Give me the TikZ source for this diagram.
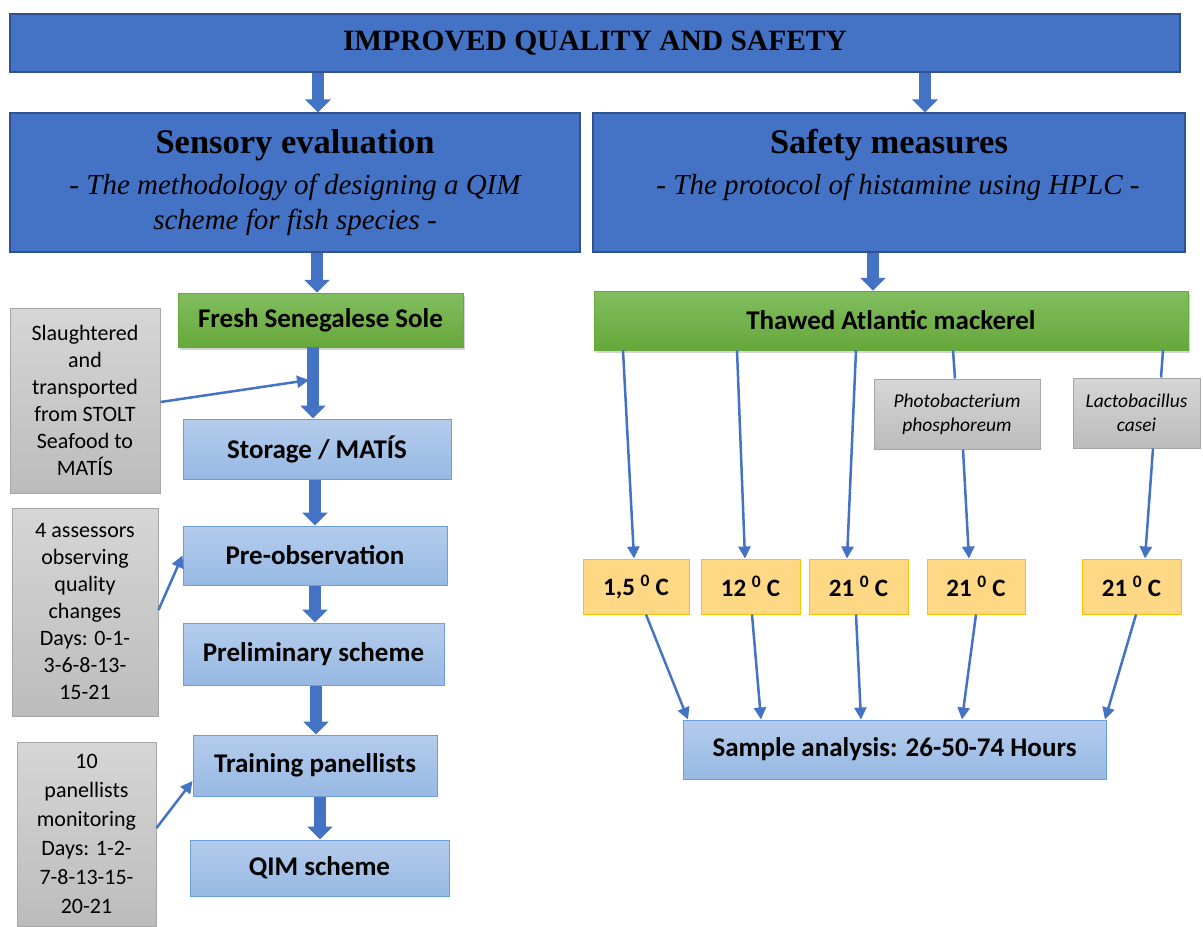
\documentclass[tikz,border=0pt]{standalone}
\usepackage{fontspec}
\setmainfont{Liberation Serif}
\newfontfamily\calfont{Carlito}
\usetikzlibrary{arrows.meta,shadows,calc}
\definecolor{cblue}{HTML}{4472C4}
\definecolor{cbluedark}{HTML}{2F528F}
\definecolor{clighttop}{HTML}{B4CCEC}
\definecolor{clightbot}{HTML}{97B9E3}
\definecolor{clightline}{HTML}{6C9FD8}
\definecolor{cgreentop}{HTML}{82BD60}
\definecolor{cgreenbot}{HTML}{66A83A}
\definecolor{cgraytop}{HTML}{D6D6D6}
\definecolor{cgraybot}{HTML}{BCBCBC}
\definecolor{cgrayline}{HTML}{A6A6A6}
\definecolor{ctemp}{HTML}{FFD886}
\definecolor{ctempline}{HTML}{FFC000}
\tikzset{
  bluebox/.style={fill=cblue,draw=cbluedark,line width=1.2pt,inner sep=0pt},
  stepbox/.style={top color=clighttop,bottom color=clightbot,draw=clightline,line width=1pt,inner sep=0pt,
     font=\calfont\bfseries\fontsize{27}{31}\selectfont},
  greenbox/.style={top color=cgreentop,bottom color=cgreenbot,draw=cgreenbot,line width=0.5pt,inner sep=0pt,
     drop shadow={shadow xshift=2pt,shadow yshift=-3pt,opacity=0.35},
     font=\calfont\bfseries\fontsize{27}{31}\selectfont},
  graybox/.style={top color=cgraytop,bottom color=cgraybot,draw=cgrayline,line width=1pt,inner sep=0pt,align=center,
     font=\calfont\fontsize{22}{27}\selectfont},
  tempbox/.style={fill=ctemp,draw=ctempline,line width=1pt,inner sep=0pt,
     font=\calfont\bfseries\fontsize{25}{29}\selectfont},
  blockarrow/.style={draw=cblue,line width=12pt,-{Triangle[width=25pt,length=13pt]}},
  conn/.style={draw=cblue,line width=2.5pt,-{Triangle[width=12pt,length=12pt]}},
  plainconn/.style={draw=cblue,line width=2.5pt},
}
\begin{document}
\begin{tikzpicture}[x=1pt,y=-1pt]
\useasboundingbox (0,0) rectangle (1203,927);
% top
\node[bluebox,minimum width=1170pt,minimum height=58pt,font=\bfseries\fontsize{29.5}{33}\selectfont] (top) at (595,43) {IMPROVED QUALITY AND SAFETY};
\node[bluebox,minimum width=570pt,minimum height=139pt] (sens) at (295,182.5) {};
\node[bluebox,minimum width=592pt,minimum height=139pt] (safe) at (889,182.5) {};
\node[font=\bfseries\fontsize{34.5}{38}\selectfont] (senst) at (295,145) {Sensory evaluation};
\node[font=\itshape\fontsize{29}{35}\selectfont,align=center] (senss) at (295,205) {- The methodology of designing a QIM\\scheme for fish species -};
\node[font=\bfseries\fontsize{34.5}{38}\selectfont] (safet) at (889,145) {Safety measures};
\node[font=\itshape\fontsize{29}{35}\selectfont] (safes) at (898,187) {- The protocol of histamine using HPLC -};
% green
\node[greenbox,minimum width=285pt,minimum height=54pt] (fresh) at (320.5,320) {Fresh Senegalese Sole};
\node[greenbox,minimum width=594pt,minimum height=59pt] (thawed) at (891,320.5) {Thawed Atlantic mackerel};
% left steps
\node[stepbox,minimum width=268pt,minimum height=60pt] (storage) at (317,449) {Storage / MATÍS};
\node[stepbox,minimum width=264pt,minimum height=59pt] (preobs) at (315,555.5) {Pre-observation};
\node[stepbox,minimum width=261pt,minimum height=62pt] (prelim) at (313.5,654) {Preliminary scheme};
\node[stepbox,minimum width=244pt,minimum height=61pt] (training) at (315,765.5) {Training panellists};
\node[stepbox,minimum width=259pt,minimum height=56pt] (qim) at (319.5,868) {QIM scheme};
% gray notes
\node[graybox,minimum width=150pt,minimum height=185pt] (g1) at (85,400.5) {Slaughtered\\and\\transported\\from STOLT\\Seafood to\\MATÍS};
\node[graybox,minimum width=146pt,minimum height=208pt] (g2) at (85,612) {4 assessors\\observing\\quality\\changes\\Days: 0-1-\\3-6-8-13-\\15-21};
\node[graybox,minimum width=139pt,minimum height=184pt,font=\calfont\fontsize{22}{29}\selectfont] (g3) at (86.5,834) {10\\panellists\\monitoring\\Days: 1-2-\\7-8-13-15-\\20-21};
\node[graybox,minimum width=166pt,minimum height=70pt,font=\calfont\itshape\fontsize{19.5}{24}\selectfont] (pb) at (957,414) {Photobacterium\\phosphoreum};
\node[graybox,minimum width=127pt,minimum height=70pt,font=\calfont\itshape\fontsize{19.5}{24}\selectfont] (lc) at (1136.5,413) {Lactobacillus\\casei};
% temps
\node[tempbox,minimum width=106pt,minimum height=55pt] (t1) at (636,586.5) {1,5 \textsuperscript{0} C};
\node[tempbox,minimum width=99pt,minimum height=55pt] (t2) at (750.5,586.5) {12 \textsuperscript{0} C};
\node[tempbox,minimum width=99pt,minimum height=55pt] (t3) at (858.5,586.5) {21 \textsuperscript{0} C};
\node[tempbox,minimum width=98pt,minimum height=55pt] (t4) at (976,586.5) {21 \textsuperscript{0} C};
\node[tempbox,minimum width=99pt,minimum height=55pt] (t5) at (1131.5,586.5) {21 \textsuperscript{0} C};
\node[stepbox,minimum width=423pt,minimum height=59pt] (sample) at (894.5,749.5) {Sample analysis: 26-50-74 Hours};
% block arrows
\draw[blockarrow] (top.south -| 318,0) -- (sens.north -| 318,0);
\draw[blockarrow] (top.south -| 925,0) -- (safe.north -| 925,0);
\draw[blockarrow] (sens.south -| 317,0) -- (fresh.north -| 317,0);
\draw[blockarrow] (safe.south -| 873,0) -- (thawed.north -| 873,0);
\draw[blockarrow] (fresh.south -| 313,0) -- (storage.north -| 313,0);
\draw[blockarrow] (storage.south -| 315,0) -- (preobs.north -| 315,0);
\draw[blockarrow] (preobs.south -| 315,0) -- (prelim.north -| 315,0);
\draw[blockarrow] (prelim.south -| 316,0) -- (training.north -| 316,0);
\draw[blockarrow] (training.south -| 320,0) -- (qim.north -| 320,0);
% note connectors
\coordinate (shaft) at (309,380);
\draw[conn] (g1.east |- 0,402) -- (shaft);
\draw[conn] (g2.east |- 0,610) -- (preobs.west);
\draw[conn] (g3.east |- 0,828) -- (training.west |- 0,781);
% right connectors
\draw[conn] (thawed.south -| 623,0) -- (t1.north -| 634,0);
\draw[conn] (thawed.south -| 737,0) -- (t2.north -| 745,0);
\draw[conn] (thawed.south -| 856,0) -- (t3.north -| 847,0);
\draw[plainconn] (thawed.south -| 953,0) -- (pb.north -| 955,0);
\draw[conn] (pb.south -| 963,0) -- (t4.north -| 969,0);
\draw[plainconn] (thawed.south -| 1163,0) -- (lc.north -| 1161,0);
\draw[conn] (lc.south -| 1153,0) -- (t5.north -| 1145,0);
\draw[conn] (t1.south -| 646,0) -- (sample.north -| 688,0);
\draw[conn] (t2.south -| 752,0) -- (sample.north -| 761,0);
\draw[conn] (t3.south -| 856,0) -- (sample.north -| 861,0);
\draw[conn] (t4.south -| 976,0) -- (sample.north -| 962,0);
\draw[conn] (t5.south -| 1136,0) -- (sample.north -| 1105,0);
\end{tikzpicture}
\end{document}
